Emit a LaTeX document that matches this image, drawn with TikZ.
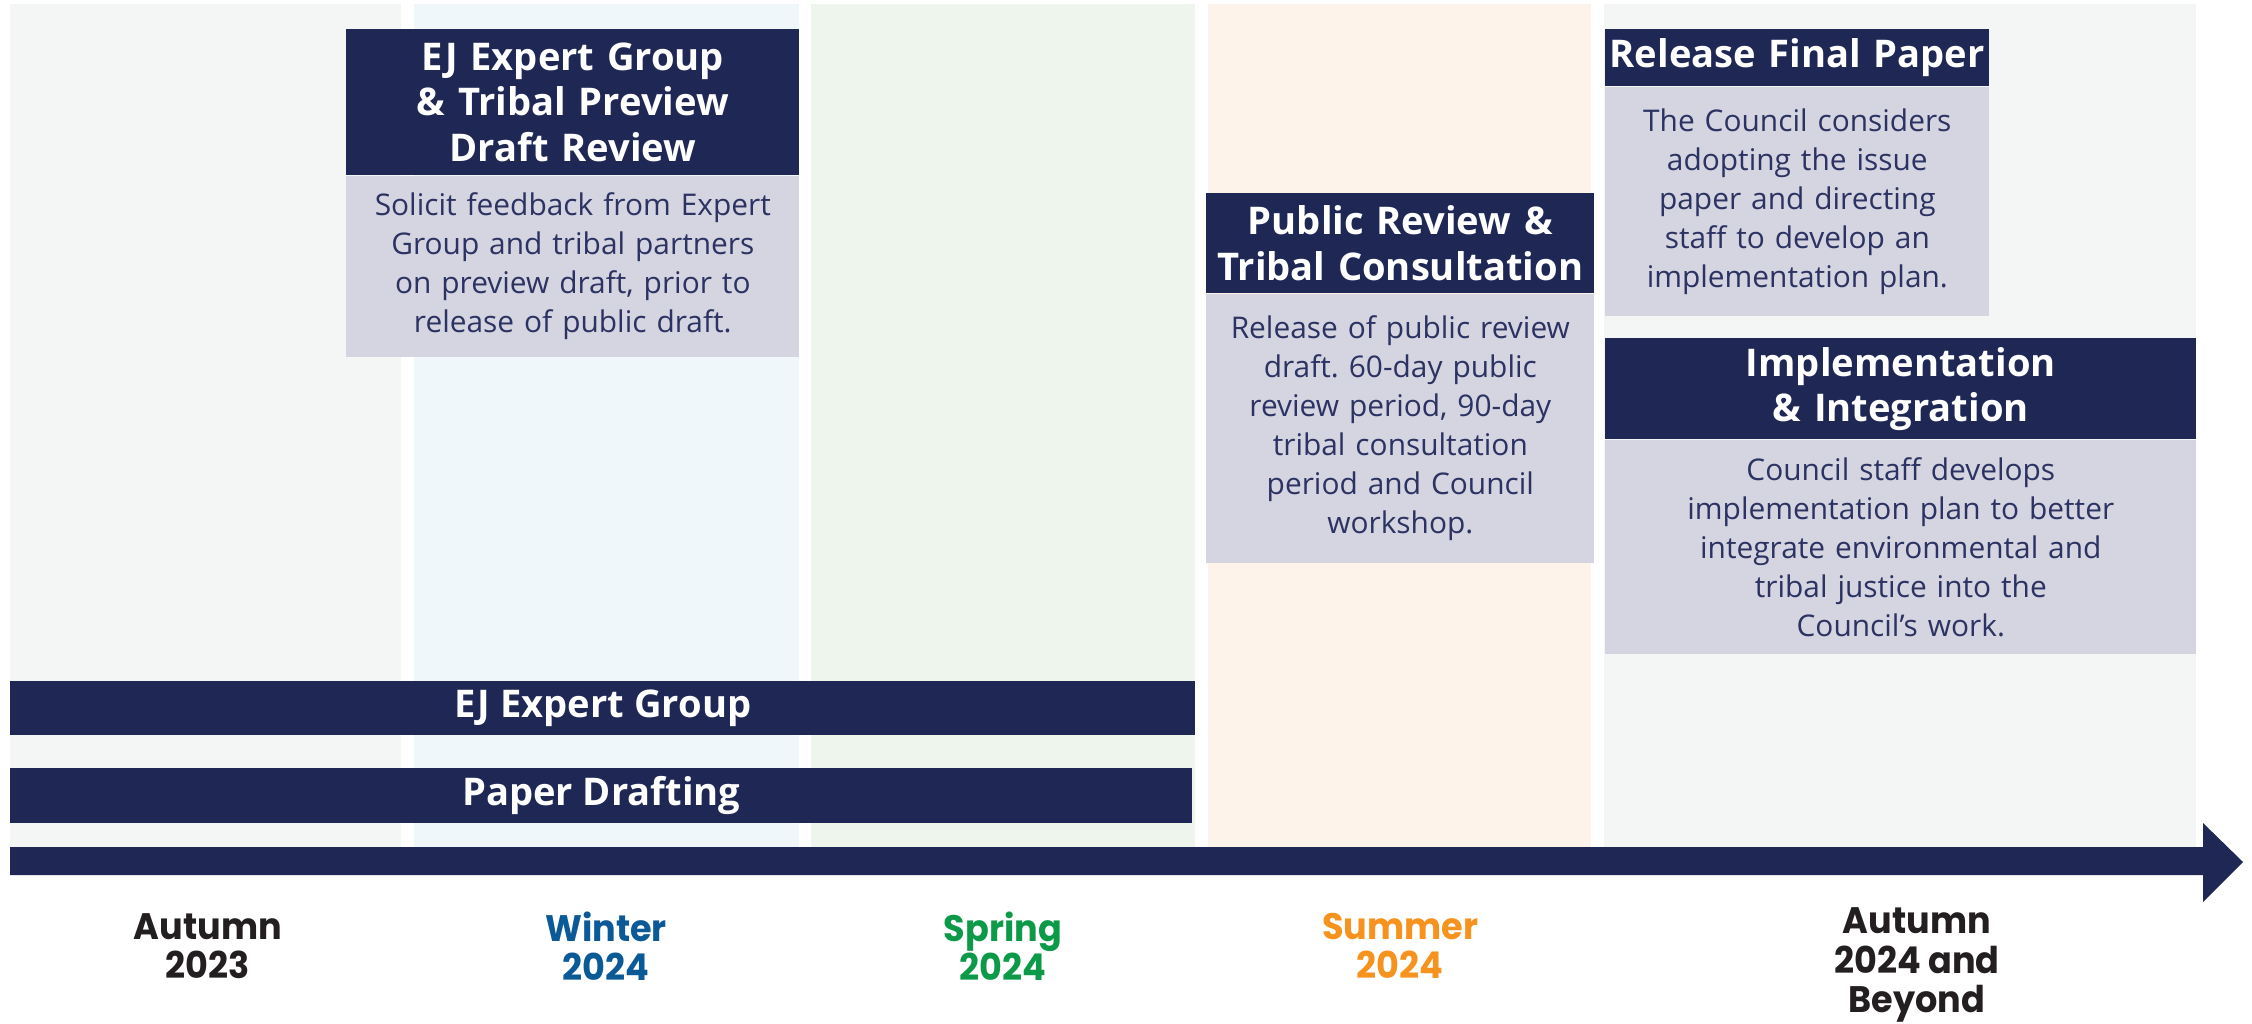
\documentclass[tikz,border=0pt]{standalone}
\usepackage{fontspec}
\setmainfont{Open Sans}
\newfontfamily\seasonfont{Poppins}[FakeStretch=0.95]
\usetikzlibrary{positioning}

\definecolor{navy}{HTML}{1F2855}
\definecolor{boxgray}{HTML}{D4D5E0}
\definecolor{bodytext}{HTML}{2C3362}
\definecolor{colgray}{HTML}{F4F6F5}
\definecolor{colblue}{HTML}{F0F7FA}
\definecolor{colgreen}{HTML}{EEF5EC}
\definecolor{colpeach}{HTML}{FDF3EA}
\definecolor{winterblue}{HTML}{0A5A97}
\definecolor{springgr}{HTML}{0C9A48}
\definecolor{summerorange}{HTML}{F6921E}
\definecolor{autumnblack}{HTML}{231F20}

\tikzset{
  header/.style={fill=navy, text=white, font=\bfseries\fontsize{21.7}{25.8}\selectfont,
    align=center, inner sep=0pt},
  body/.style={fill=boxgray, text=bodytext, font=\fontsize{17}{22.2}\selectfont,
    align=center, inner sep=0pt},
  bar/.style={fill=navy, text=white, font=\bfseries\fontsize{21.7}{25.8}\selectfont,
    inner sep=0pt, anchor=north west},
  season/.style={font=\seasonfont\bfseries\fontsize{21}{22.4}\selectfont, align=center}
}

\begin{document}
\frenchspacing
\begin{tikzpicture}[x=0.02cm, y=-0.02cm]
    \useasboundingbox (0,0) rectangle (2252,1024);

    % Season columns
    \fill[colgray]  (10,4)   rectangle (401,847);
    \fill[colblue]  (414,4)  rectangle (799,847);
    \fill[colgreen] (811,4)  rectangle (1195,847);
    \fill[colpeach] (1208,4) rectangle (1591,847);
    \fill[colgray]  (1604,4) rectangle (2196,847);

    % Timeline arrow
    \fill[navy] (10,847) -- (2203,847) -- (2203,823) -- (2243,862)
        -- (2203,902) -- (2203,875) -- (10,875) -- cycle;

    % Ongoing work bars
    \node[bar, minimum width=23.7cm, minimum height=1.08cm] (barExpert) at (10,681) {EJ Expert Group};
    \node[bar, minimum width=23.64cm, minimum height=1.1cm] (barDraft) at (10,768) {Paper Drafting};

    % Expert group preview
    \node[header, anchor=north west, text width=9.06cm, minimum height=2.92cm] (hdPreview) at (346,29)
        {EJ Expert Group\\ \& Tribal Preview\\ Draft Review};
    \node[body, below=0pt of hdPreview, text width=9.06cm, minimum height=3.62cm] (bdPreview)
        {Solicit feedback from Expert\\ Group and tribal partners\\ on preview draft, prior to\\ release of public draft.};

    % Public review
    \node[header, anchor=north west, text width=7.76cm, minimum height=2cm] (hdPublic) at (1206,193)
        {Public Review \&\\ Tribal Consultation};
    \node[body, below=0pt of hdPublic, text width=7.76cm, minimum height=5.38cm] (bdPublic)
        {Release of public review\\ draft. 60-day public\\ review period, 90-day\\ tribal consultation\\ period and Council\\ workshop.};

    % Final paper
    \node[header, anchor=north west, text width=7.68cm, minimum height=1.14cm] (hdFinal) at (1605,29)
        {Release Final Paper};
    \node[body, below=0pt of hdFinal, text width=7.68cm, minimum height=4.58cm] (bdFinal)
        {The Council considers\\ adopting the issue\\ paper and directing\\ staff to develop an\\ implementation plan.};

    % Implementation
    \node[header, anchor=north west, text width=11.82cm, minimum height=2.02cm] (hdImpl) at (1605,338)
        {Implementation\\ \& Integration};
    \node[body, below=0pt of hdImpl, text width=11.82cm, minimum height=4.28cm] (bdImpl)
        {Council staff develops\\ implementation plan to better\\ integrate environmental and\\ tribal justice into the\\ Council’s work.};

    % Season labels
    \node[season, text=autumnblack] (autumnA) at (208,946) {Autumn\\ 2023};
    \node[season, text=winterblue] (winter) at (606,946) {Winter\\ 2024};
    \node[season, text=springgr] (spring) at (1003,946) {Spring\\ 2024};
    \node[season, text=summerorange] (summer) at (1400,946) {Summer\\ 2024};
    \node[season, text=autumnblack] (autumnB) at (1917,965) {Autumn\\ 2024 and\\ Beyond};

\end{tikzpicture}
\end{document}
